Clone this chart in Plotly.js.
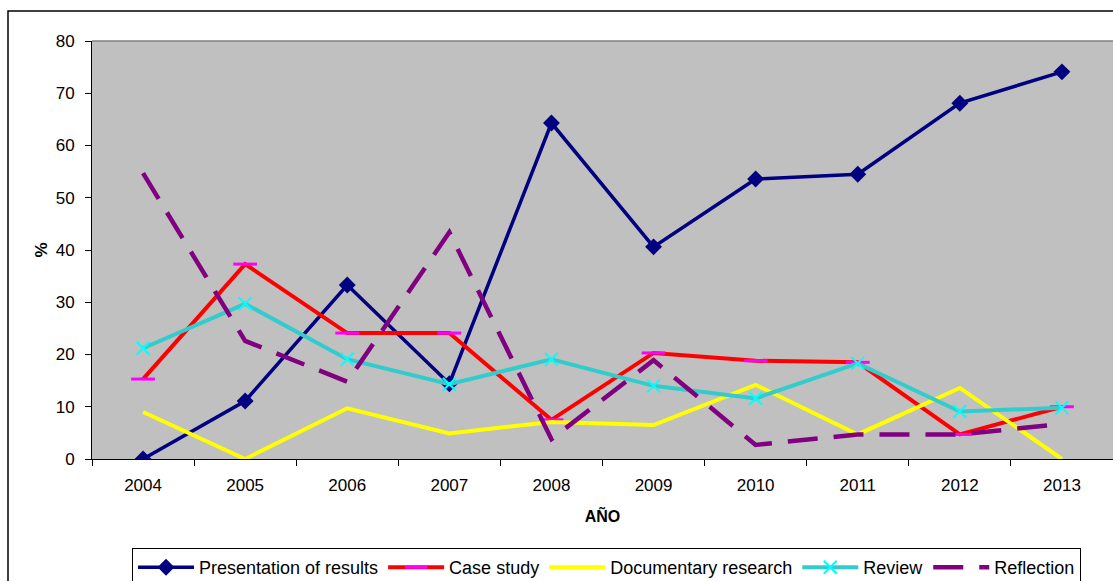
<!DOCTYPE html>
<html>
<head>
<meta charset="utf-8">
<script src="https://cdn.plot.ly/plotly-3.0.1.min.js"></script>
<style>
  html, body { margin: 0; padding: 0; background: #ffffff; }
  #chart { width: 1113px; height: 581px; }
</style>
</head>
<body>
<div id="chart"></div>
<script>
const years = ['2004', '2005', '2006', '2007', '2008', '2009', '2010', '2011', '2012', '2013'];
const presentationOfResults = [0, 11.1, 33.3, 14.4, 64.3, 40.6, 53.6, 54.5, 68.1, 74.1];
const caseStudy = [15.3, 37.3, 24.1, 24.1, 7.5, 20.3, 18.8, 18.5, 4.7, 10.0];
const documentaryResearch = [9.0, 0, 9.7, 4.9, 7.1, 6.5, 14.2, 4.7, 13.6, 0];
const review = [21.2, 29.7, 19.1, 14.3, 19.1, 14.0, 11.6, 18.3, 9.1, 9.8];
const reflection = [54.7, 22.6, 14.8, 43.4, 3.8, 18.9, 2.7, 4.7, 4.7, 6.7];
const yTicks = [0, 10, 20, 30, 40, 50, 60, 70, 80];

const FONT = 'Liberation Sans, Arial, sans-serif';

const traces = [
  {
    name: 'Presentation of results', x: years, y: presentationOfResults,
    type: 'scatter', mode: 'lines+markers',
    line: { color: '#000080', width: 3.5 },
    marker: { symbol: 'diamond', size: 13, color: '#000080', line: { width: 0 } }
  },
  {
    name: 'Case study', x: years, y: caseStudy,
    type: 'scatter', mode: 'lines+markers',
    line: { color: '#FF0000', width: 4 },
    marker: { symbol: 'line-ew', size: 17, color: '#FF00FF', line: { color: '#FF00FF', width: 3 } }
  },
  {
    name: 'Documentary research', x: years, y: documentaryResearch,
    type: 'scatter', mode: 'lines',
    line: { color: '#FFFF00', width: 4 }
  },
  {
    name: 'Review', x: years, y: review,
    type: 'scatter', mode: 'lines+markers',
    line: { color: '#33CCCC', width: 4 },
    marker: { symbol: 'x-thin', size: 13, color: '#00FFFF', line: { color: '#00FFFF', width: 2 } }
  },
  {
    name: 'Reflection', x: years, y: reflection,
    type: 'scatter', mode: 'lines',
    line: { color: '#800080', width: 4.5, dash: '30px,16px' }
  }
];

const L = 92, T = 41, B = 122, W = 1113, H = 581;
const plotW = W - L, plotH = H - T - B;
const px = v => (v - L) / plotW;
const py = v => (H - B - v) / plotH;

const layout = {
  width: W, height: H,
  margin: { l: L, r: 0, t: T, b: B, pad: 0, autoexpand: false },
  paper_bgcolor: '#ffffff',
  plot_bgcolor: '#C0C0C0',
  font: { family: FONT, color: '#000000', size: 17 },
  showlegend: true,
  xaxis: {
    type: 'category',
    categoryorder: 'array', categoryarray: years,
    range: [-0.5, 9.5],
    showgrid: false, zeroline: false,
    showline: true, linecolor: '#000000', linewidth: 1,
    ticks: 'outside', tickson: 'boundaries', ticklen: 6, tickcolor: '#000000', tickwidth: 1,
    ticklabelstandoff: 11,
    tickfont: { family: FONT, size: 17, color: '#000000' },
    title: { text: '<b>AÑO</b>', font: { family: FONT, size: 16, color: '#000000' }, standoff: 16 },
    automargin: false, fixedrange: true
  },
  yaxis: {
    range: [0, 80],
    tickmode: 'array', tickvals: yTicks, ticktext: yTicks.map(String),
    showgrid: false, zeroline: false,
    showline: true, linecolor: '#000000', linewidth: 1,
    ticks: 'outside', ticklen: 6, tickcolor: '#000000', tickwidth: 1,
    ticklabelstandoff: 7,
    tickfont: { family: FONT, size: 17, color: '#000000' },
    title: { text: '<b>%</b>', font: { family: FONT, size: 17, color: '#000000' }, standoff: 3 },
    automargin: false, fixedrange: true
  },
  legend: {
    orientation: 'h',
    xref: 'container', yref: 'container',
    x: 132 / W, y: 1 - 548 / H, xanchor: 'left', yanchor: 'top',
    bgcolor: '#ffffff', bordercolor: '#000000', borderwidth: 1,
    font: { family: FONT, size: 18, color: '#000000' },
    itemwidth: 56,
    traceorder: 'normal',
    itemclick: false, itemdoubleclick: false
  },
  shapes: [
    {
      type: 'rect', xref: 'paper', yref: 'paper',
      x0: px(8), x1: px(1125), y0: py(600), y1: py(11),
      line: { color: '#000000', width: 1.5 }, fillcolor: 'rgba(0,0,0,0)', layer: 'below'
    },
    {
      type: 'line', xref: 'paper', yref: 'paper',
      x0: 0, x1: 1, y0: 1, y1: 1,
      line: { color: '#808080', width: 1.5 }
    }
  ]
};

Plotly.newPlot('chart', traces, layout, { displayModeBar: false, staticPlot: true });
</script>
</body>
</html>
